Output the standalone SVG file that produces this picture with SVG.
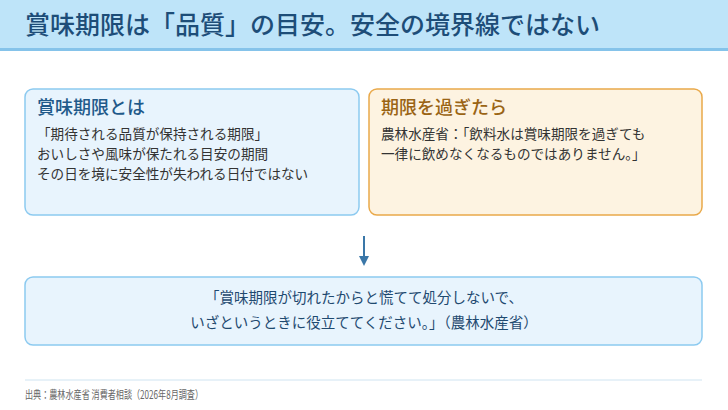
<svg xmlns="http://www.w3.org/2000/svg" width="728" height="410" viewBox="0 0 728 410">
<style>
text{font-family:"Noto Sans CJK JP","Noto Sans",sans-serif}
.body{font-size:13.6px;fill:#333}
.q{font-size:14.5px;fill:#1f4a70;text-anchor:middle}
</style>
<defs><marker id="ah" markerWidth="10" markerHeight="10" refX="5" refY="5" orient="auto" markerUnits="userSpaceOnUse"><path d="M0,0 L10,5 L0,10 z" fill="#3a77a8"/></marker></defs>
<rect width="728" height="410" fill="#fff"/>
<g id="header">
<rect x="0" y="0" width="728" height="48" fill="#bee4f9"/>
<rect x="0" y="48" width="728" height="3" fill="#85c3ea"/>
<text x="25" y="34" font-size="25" font-weight="500" fill="#1d4d78">賞味期限は「品質」の目安。安全の境界線ではない</text>
</g>
<g id="def">
<rect x="25" y="89" width="334" height="126" rx="8" fill="#e8f4fd" stroke="#8ccaf0" stroke-width="1.5"/>
<text x="37" y="114" font-size="18" font-weight="500" fill="#1f5a8a">賞味期限とは</text>
<text class="body" x="37" y="139">「期待される品質が保持される期限」</text>
<text class="body" x="37" y="159">おいしさや風味が保たれる目安の期間</text>
<text class="body" x="37" y="179">その日を境に安全性が失われる日付ではない</text>
</g>
<g id="after">
<rect x="369" y="89" width="333" height="126" rx="8" fill="#fdf3e1" stroke="#e9a94a" stroke-width="1.5"/>
<text x="381" y="114" font-size="18" font-weight="500" fill="#9a6414">期限を過ぎたら</text>
<text class="body" x="381" y="139">農林水産省：「飲料水は賞味期限を過ぎても</text>
<text class="body" x="381" y="159">一律に飲めなくなるものではありません。」</text>
</g>
<g id="connectors">
<line x1="364" y1="236" x2="364" y2="261" stroke="#3a77a8" stroke-width="2" marker-end="url(#ah)"/>
</g>
<g id="quote">
<rect x="25" y="277" width="677" height="68" rx="8" fill="#e8f4fd" stroke="#8ccaf0" stroke-width="1.5"/>
<text class="q" x="364" y="303">「賞味期限が切れたからと慌てて処分しないで、</text>
<text class="q" x="364" y="328">いざというときに役立ててください。」（農林水産省）</text>
</g>
<g id="footer">
<line x1="25" y1="380" x2="702" y2="380" stroke="#cfe4f1" stroke-width="1"/>
<text x="25" y="399" font-size="11.5" fill="#666" textLength="178" lengthAdjust="spacingAndGlyphs">出典：農林水産省 消費者相談（2026年8月調査）</text>
</g>
</svg>
